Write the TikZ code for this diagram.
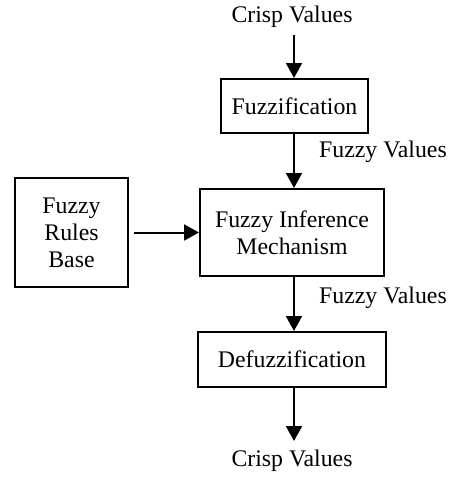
\documentclass[tikz,border=0pt]{standalone}
\usepackage{fontspec}
\setmainfont{Liberation Serif}
\usetikzlibrary{arrows.meta}
\begin{document}
\begin{tikzpicture}[x=1pt,y=1pt,
  box/.style={draw,line width=2pt,align=center,inner sep=0pt,font=\fontsize{23.8}{27}\selectfont},
  lbl/.style={inner sep=0pt,font=\fontsize{23.8}{27}\selectfont},
  arr/.style={line width=2pt,-{Triangle[length=15pt,width=16pt]}}]
\useasboundingbox (0,0) rectangle (456,-477);
\node[lbl] (cin) at (292,-17) {Crisp Values};
\coordinate (cinb) at (294,-35);
\node[box,minimum width=147pt,minimum height=54pt] (fuzz) at (294.5,-106) {Fuzzification};
\node[box,minimum width=184pt,minimum height=87pt] (fim) at (292,-232.5) {Fuzzy Inference\\Mechanism};
\node[box,minimum width=113pt,minimum height=109pt] (frb) at (71.5,-232.5) {Fuzzy\\Rules\\Base};
\node[box,minimum width=188pt,minimum height=55pt] (defuzz) at (292,-359.5) {Defuzzification};
\node[lbl] (fv1) at (383,-152) {Fuzzy Values};
\node[lbl] (fv2) at (383,-298) {Fuzzy Values};
\node[lbl] (cout) at (292,-461) {Crisp Values};
\coordinate (coutt) at (294,-441);
\draw[arr] (cinb) -- (cinb |- fuzz.north);
\draw[arr] (fuzz.south -| cinb) -- (cinb |- fim.north);
\draw[arr] (frb.east) ++(5pt,0) -- (fim.west);
\draw[arr] (fim.south -| cinb) -- (cinb |- defuzz.north);
\draw[arr] (defuzz.south -| cinb) -- (coutt);
\end{tikzpicture}
\end{document}
